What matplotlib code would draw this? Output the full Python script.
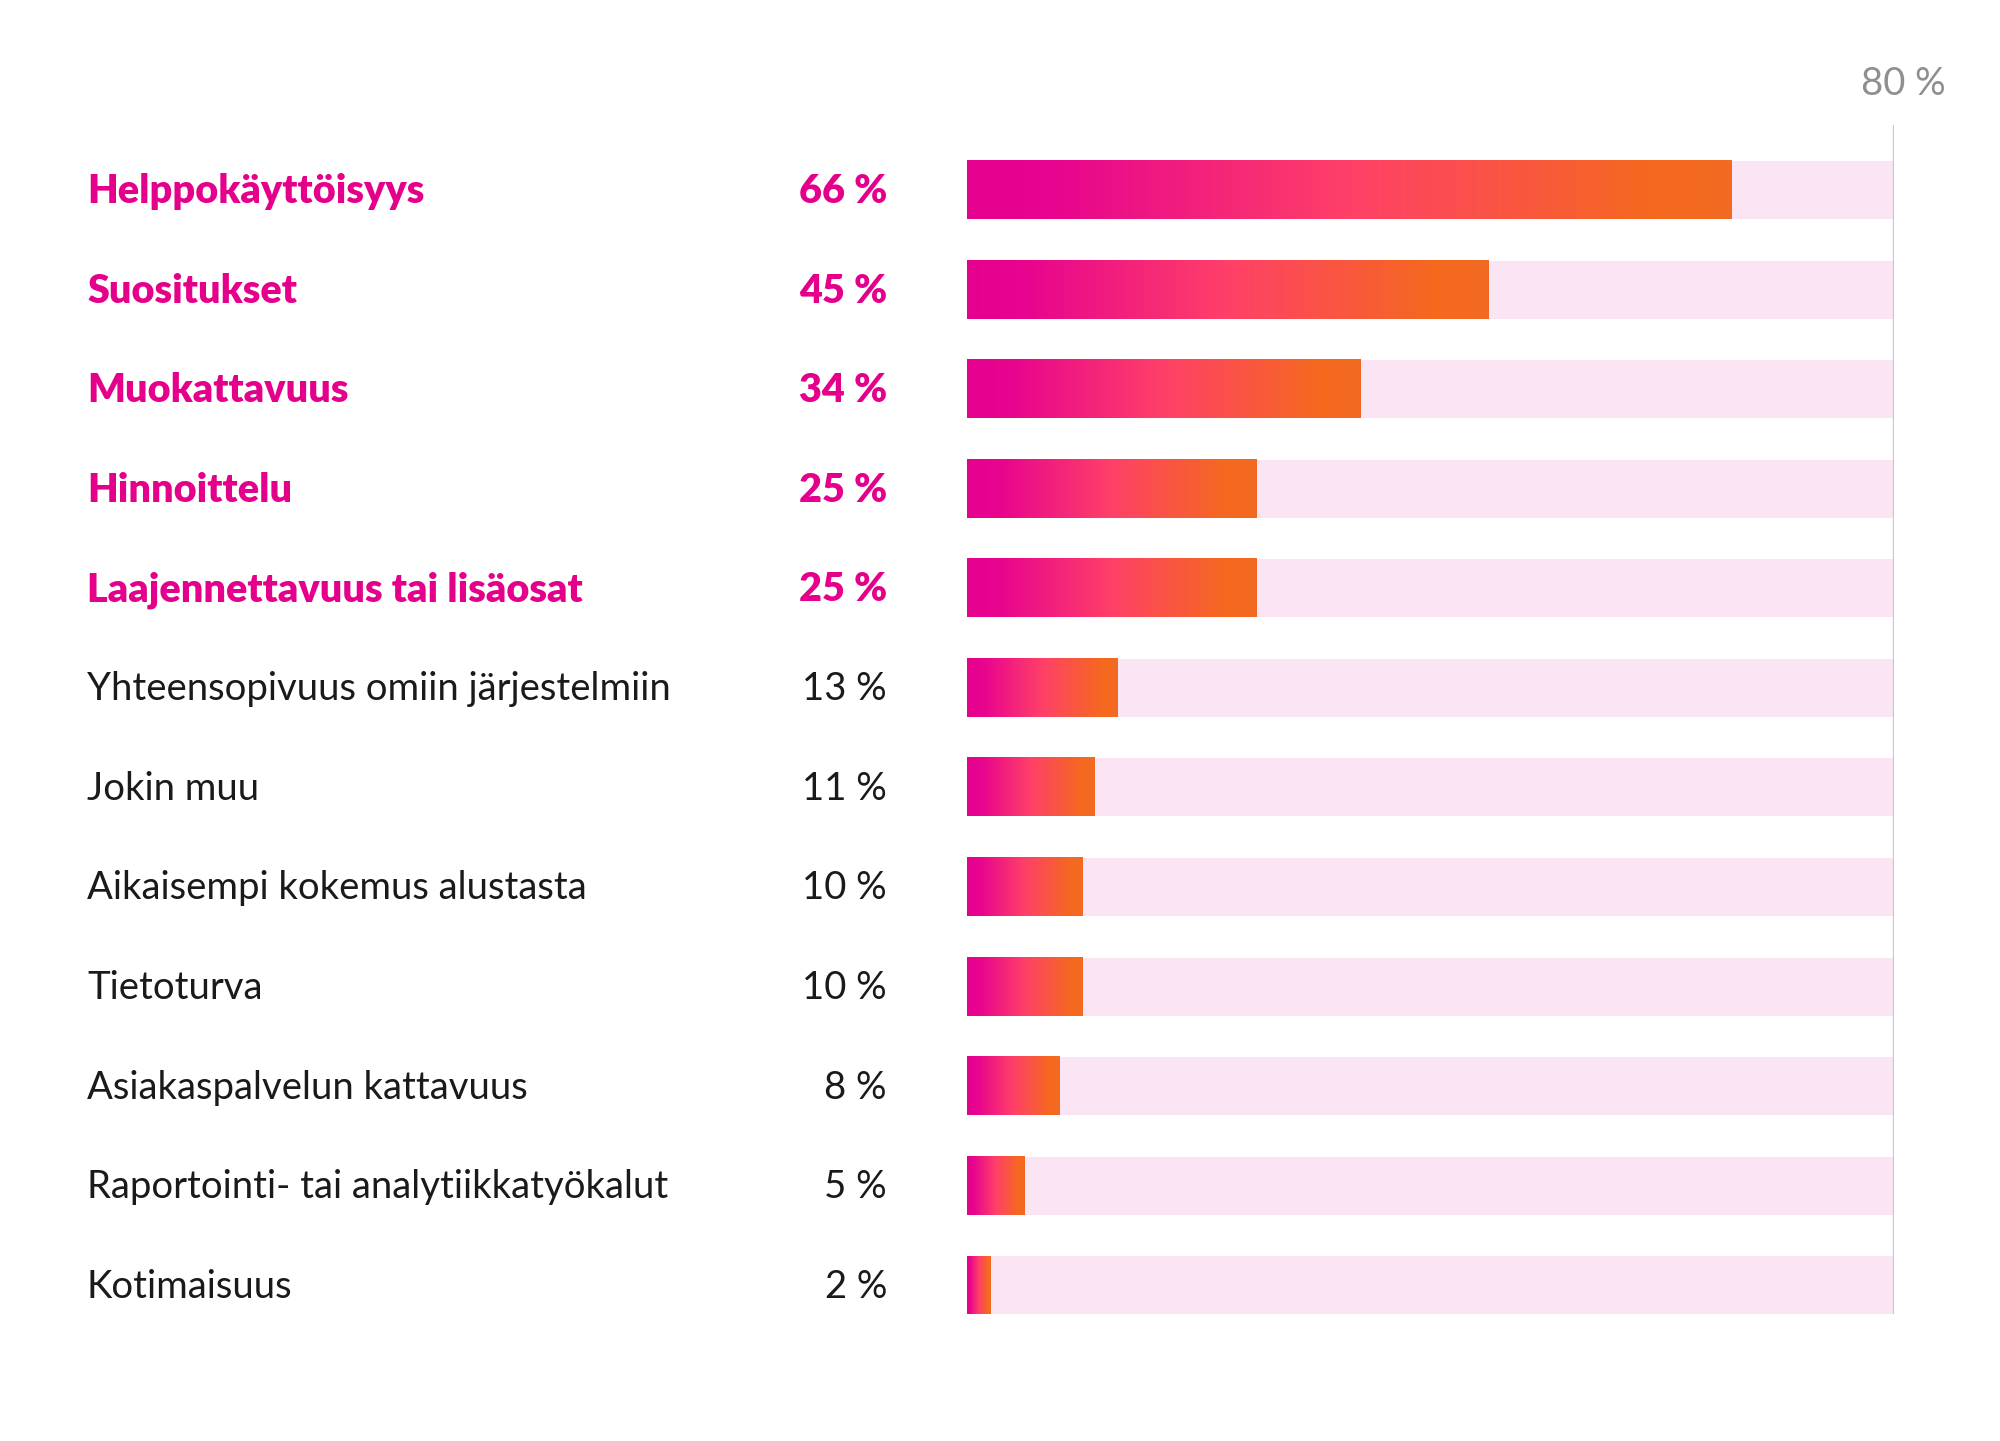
import numpy as np
import matplotlib
matplotlib.use('Agg')
import matplotlib.pyplot as plt
import matplotlib.transforms as mtransforms
from matplotlib.colors import LinearSegmentedColormap

plt.rcParams['font.family'] = ['Lato', 'DejaVu Sans']

# data
categories = ['Helppokäyttöisyys', 'Suositukset', 'Muokattavuus', 'Hinnoittelu',
              'Laajennettavuus tai lisäosat', 'Yhteensopivuus omiin järjestelmiin',
              'Jokin muu', 'Aikaisempi kokemus alustasta', 'Tietoturva',
              'Asiakaspalvelun kattavuus', 'Raportointi- tai analytiikkatyökalut',
              'Kotimaisuus']
values = [66, 45, 34, 25, 25, 13, 11, 10, 10, 8, 5, 2]
highlight = [True, True, True, True, True, False, False, False, False, False, False, False]
axis_max = 80
axis_label = '80 %'

MAGENTA = '#E5008C'
TEXT = '#1a1a1a'
TRACK = '#FBE4F3'
grad = LinearSegmentedColormap.from_list(
    'brand', [(0.0, '#E6008F'), (0.12, '#E8058E'), (0.5, '#FF4068'),
              (0.9, '#F5691E'), (1.0, '#F26A22')])

fig = plt.figure(figsize=(20, 14.41), dpi=100)
ax = fig.add_axes([0.4835, 0.0881, 0.4635, 0.8251])

ypos = np.arange(len(values))
bar_h = 0.583

# background track
ax.barh(ypos, axis_max, height=bar_h, color=TRACK, zorder=1)

# gradient bars, each with its own full gradient
g = np.linspace(0, 1, 256).reshape(1, -1)
for y, v in zip(ypos, values):
    ax.imshow(g, cmap=grad, aspect='auto', interpolation='bilinear',
              extent=(0, v, y + bar_h / 2, y - bar_h / 2), zorder=2)

ax.axvline(axis_max, color='#c8c8c8', lw=1.6, zorder=3)
ax.set_xlim(0, axis_max)
ax.set_ylim(11.29, -0.654)
ax.axis('off')

# labels, nudged down a touch to sit on the bar centre like the original
trans = mtransforms.blended_transform_factory(fig.transFigure, ax.transData)
trans = trans + mtransforms.ScaledTranslation(0, -1.5 / 100, fig.dpi_scale_trans)
for y, cat, v, hl in zip(ypos, categories, values, highlight):
    col = MAGENTA if hl else TEXT
    wt = 'heavy' if hl else 'normal'
    fs = 28.5 if hl else 27.5
    ax.text(0.0435, y, cat, transform=trans, ha='left', va='center',
            fontsize=fs, color=col, fontweight=wt)
    ax.text(0.4435, y, f'{v} %', transform=trans, ha='right', va='center',
            fontsize=fs, color=col, fontweight=wt)

lbl_trans = mtransforms.offset_copy(ax.transData, fig=fig, x=9, y=0, units='dots')
ax.text(axis_max, -1.066, axis_label, ha='center', va='center', fontsize=27.5,
        color='#8f8f8f', clip_on=False, transform=lbl_trans)

fig.savefig('out.png', dpi=100)
